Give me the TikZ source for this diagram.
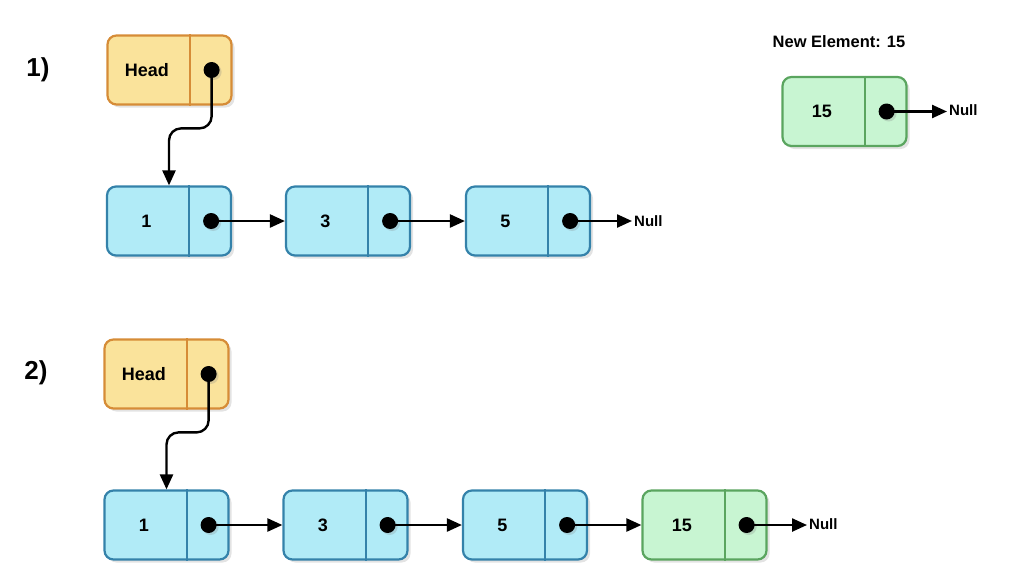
\documentclass[tikz,border=0pt]{standalone}
\usepackage{fontspec}
\setmainfont{Liberation Sans}
\usetikzlibrary{arrows.meta,calc,shadows,positioning}

\definecolor{bluefill}{RGB}{177,235,247}
\definecolor{blueline}{RGB}{52,130,170}
\definecolor{orangefill}{RGB}{250,227,155}
\definecolor{orangeline}{RGB}{214,140,55}
\definecolor{greenfill}{RGB}{200,245,210}
\definecolor{greenline}{RGB}{90,165,95}

% one list element: name, position, text, colour style
\newcommand{\llcell}[4]{%
    \node[cell,#4] (#1) at (#2) {};
    \node[celltext] (#1t) at ([xshift=40.5pt]#1.west) {#3};
    \draw[#4,fill=none,line width=2pt] ([xshift=-43pt]#1.north east) -- ([xshift=-43pt]#1.south east);
    \node[dot] (#1d) at ([xshift=-21pt]#1.east) {};
}

\begin{document}
\begin{tikzpicture}[x=1pt,y=-1pt,
    cell/.style={draw,line width=2.2pt,rounded corners=9pt,minimum width=124pt,minimum height=69pt,
        drop shadow={shadow xshift=3pt,shadow yshift=-3pt,opacity=0.22}},
    bluecell/.style={fill=bluefill,draw=blueline},
    orangecell/.style={fill=orangefill,draw=orangeline},
    greencell/.style={fill=greenfill,draw=greenline},
    celltext/.style={font=\fontsize{18}{20}\selectfont\bfseries},
    dot/.style={circle,fill=black,inner sep=0pt,minimum size=16pt,
        drop shadow={shadow xshift=2pt,shadow yshift=-2pt,opacity=0.25}},
    ptr/.style={line width=2.4pt,-{Triangle[length=15pt,width=13pt]}},
    nulltext/.style={font=\fontsize{15}{17}\selectfont\bfseries,inner sep=2pt,anchor=west},
    steplabel/.style={font=\fontsize{26}{28}\selectfont\bfseries}]

    \useasboundingbox (0,0) rectangle (1024,587);

    % step labels
    \node[steplabel] (s1) at (38,70) {1)};
    \node[steplabel] (s2) at (36,373) {2)};

    % 1) list before insertion
    \llcell{h1}{169.5,70}{Head}{orangecell}
    \llcell{a1}{169,221}{1}{bluecell}
    \llcell{a3}{348,221}{3}{bluecell}
    \llcell{a5}{528,221}{5}{bluecell}
    \node[nulltext] (z1) at (632,221) {Null};

    \draw[ptr,rounded corners=12pt] (h1d.center) |- ([yshift=57pt]a1.north) -- (a1.north);
    \draw[ptr] (a1d.center) -- (a3);
    \draw[ptr] (a3d.center) -- (a5);
    \draw[ptr] (a5d.center) -- (z1);

    % new element
    \node[font=\fontsize{16.5}{18}\selectfont\bfseries] (newlbl) at (839,42) {New Element: 15};
    \llcell{e}{844.5,111.5}{15}{greencell}
    \node[nulltext] (ze) at (947,110) {Null};
    \draw[ptr] (ed.center) -- (ed.center -| ze.west);

    % 2) list after insertion
    \llcell{h2}{166.5,374}{Head}{orangecell}
    \llcell{b1}{166.5,525}{1}{bluecell}
    \llcell{b3}{345.5,525}{3}{bluecell}
    \llcell{b5}{525,525}{5}{bluecell}
    \llcell{b15}{704.5,525}{15}{greencell}
    \node[nulltext] (z2) at (807,524) {Null};

    \draw[ptr,rounded corners=12pt] (h2d.center) |- ([yshift=57pt]b1.north) -- (b1.north);
    \draw[ptr] (b1d.center) -- (b3);
    \draw[ptr] (b3d.center) -- (b5);
    \draw[ptr] (b5d.center) -- (b15);
    \draw[ptr] (b15d.center) -- (b15d.center -| z2.west);
\end{tikzpicture}
\end{document}
